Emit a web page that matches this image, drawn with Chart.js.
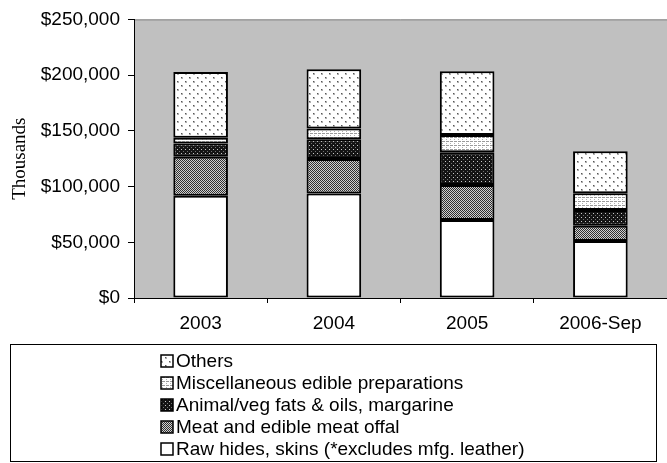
<!DOCTYPE html>
<html>
<head>
<meta charset="utf-8">
<script src="https://cdn.jsdelivr.net/npm/chart.js@4/dist/chart.umd.min.js"></script>
<style>
  html, body { margin: 0; padding: 0; background: #fff; }
  #wrap { width: 667px; height: 463px; }
</style>
</head>
<body>
<div id="wrap"><canvas id="chart" width="667" height="463"></canvas></div>
<script>
// data (thousands of $)
const years = ['2003', '2004', '2005', '2006-Sep'];
const rawHides = [91700, 93800, 69900, 51100];
const meatOffal = [35000, 31000, 31600, 13700];
const fatsOils = [12000, 17700, 29300, 14100];
const miscPreps = [5000, 9500, 15500, 15200];
const others = [59000, 53200, 57100, 37600];
const yTicks = [0, 50000, 100000, 150000, 200000, 250000];

const FONT = '"Liberation Sans", Arial, sans-serif';

function makePattern(size, draw) {
    const c = document.createElement('canvas');
    c.width = size; c.height = size;
    const g = c.getContext('2d');
    draw(g);
    return g.createPattern(c, 'repeat');
}
const pWhite = '#ffffff';
const pMeat = makePattern(2, g => {
    g.fillStyle = '#d0d0d0'; g.fillRect(0, 0, 2, 2);
    g.fillStyle = '#303030'; g.fillRect(0, 0, 1, 1); g.fillRect(1, 1, 1, 1);
});
const pFats = makePattern(4, g => {
    g.fillStyle = '#141414'; g.fillRect(0, 0, 4, 4);
    g.fillStyle = '#c8c8c8'; g.fillRect(1, 1, 1, 1);
    g.fillStyle = '#707070'; g.fillRect(3, 3, 1, 1);
});
const pMisc = makePattern(4, g => {
    g.fillStyle = '#ffffff'; g.fillRect(0, 0, 4, 4);
    g.fillStyle = '#9a9a9a'; g.fillRect(0, 1, 4, 1);
    g.fillStyle = '#ffffff'; g.fillRect(1, 1, 1, 1);
    g.fillStyle = '#b0b0b0'; g.fillRect(2, 3, 1, 1);
});
const pOthers = makePattern(8, g => {
    g.fillStyle = '#ffffff'; g.fillRect(0, 0, 8, 8);
    g.fillStyle = '#b0b0b0'; g.fillRect(1, 1, 2, 2); g.fillRect(5, 5, 2, 2);
    g.fillStyle = '#555555'; g.fillRect(1, 1, 1, 1); g.fillRect(5, 5, 1, 1);
});

const plotBg = {
    id: 'plotBg',
    beforeDraw(chart) {
        const { ctx, chartArea: a } = chart;
        ctx.save();
        ctx.fillStyle = '#c0c0c0';
        ctx.fillRect(a.left, a.top, a.right - a.left, a.bottom - a.top);
        ctx.strokeStyle = '#808080';
        ctx.lineWidth = 1;
        ctx.beginPath();
        ctx.moveTo(a.left, a.top + 0.5); ctx.lineTo(a.right, a.top + 0.5);
        ctx.stroke();
        ctx.restore();
    }
};

// legend drawn in a framed box under the axis, one series per row, reversed
const boxLegend = {
    id: 'boxLegend',
    afterDraw(chart) {
        const ctx = chart.ctx;
        const ds = chart.data.datasets.slice().reverse();
        ctx.save();
        ctx.strokeStyle = '#000';
        ctx.lineWidth = 1;
        ctx.strokeRect(10.5, 344.5, 646, 117);
        ctx.font = '19px ' + FONT;
        ctx.textBaseline = 'middle';
        ds.forEach((d, i) => {
            const y = 361 + i * 22;
            ctx.fillStyle = d.backgroundColor;
            ctx.fillRect(161, y - 6, 12, 12);
            ctx.strokeStyle = '#000';
            ctx.lineWidth = 1.5;
            ctx.strokeRect(161, y - 6, 12, 12);
            ctx.fillStyle = '#000';
            ctx.fillText(d.label, 176, y + 1);
        });
        ctx.restore();
    }
};

const series = [
    { label: 'Raw hides, skins (*excludes mfg. leather)', data: rawHides, backgroundColor: pWhite },
    { label: 'Meat and edible meat offal', data: meatOffal, backgroundColor: pMeat },
    { label: 'Animal/veg fats & oils, margarine', data: fatsOils, backgroundColor: pFats },
    { label: 'Miscellaneous edible preparations', data: miscPreps, backgroundColor: pMisc },
    { label: 'Others', data: others, backgroundColor: pOthers },
];

new Chart(document.getElementById('chart'), {
    type: 'bar',
    data: {
        labels: years,
        datasets: series.map(s => ({
            ...s,
            borderColor: '#000',
            borderWidth: 2,
            borderSkipped: false,
            categoryPercentage: 1,
            barPercentage: 0.41
        }))
    },
    options: {
        responsive: false,
        animation: false,
        devicePixelRatio: 1,
        layout: { padding: { top: 19, left: 0, right: 0, bottom: 0 } },
        plugins: { legend: { display: false }, tooltip: { enabled: false } },
        scales: {
            x: {
                stacked: true,
                grid: { offset: true, drawOnChartArea: false, color: '#000', tickLength: 5 },
                border: { color: '#000', width: 1 },
                ticks: { color: '#000', padding: 9, font: { family: FONT, size: 19 } },
                afterFit: s => { s.height = 165; }
            },
            y: {
                stacked: true,
                min: 0,
                max: 250000,
                afterBuildTicks: s => { s.ticks = yTicks.map(v => ({ value: v })); },
                grid: { drawOnChartArea: false, color: '#000', tickLength: 6 },
                border: { color: '#000', width: 1 },
                ticks: {
                    color: '#000',
                    padding: 8,
                    font: { family: FONT, size: 19 },
                    callback: v => '$' + v.toLocaleString('en-US')
                },
                title: {
                    display: true,
                    text: 'Thousands',
                    color: '#000',
                    padding: { top: 9, bottom: 0 },
                    font: { family: '"Liberation Serif", "Times New Roman", serif', size: 19 }
                },
                afterFit: s => { s.width = 134; }
            }
        }
    },
    plugins: [plotBg, boxLegend]
});
</script>
</body>
</html>
